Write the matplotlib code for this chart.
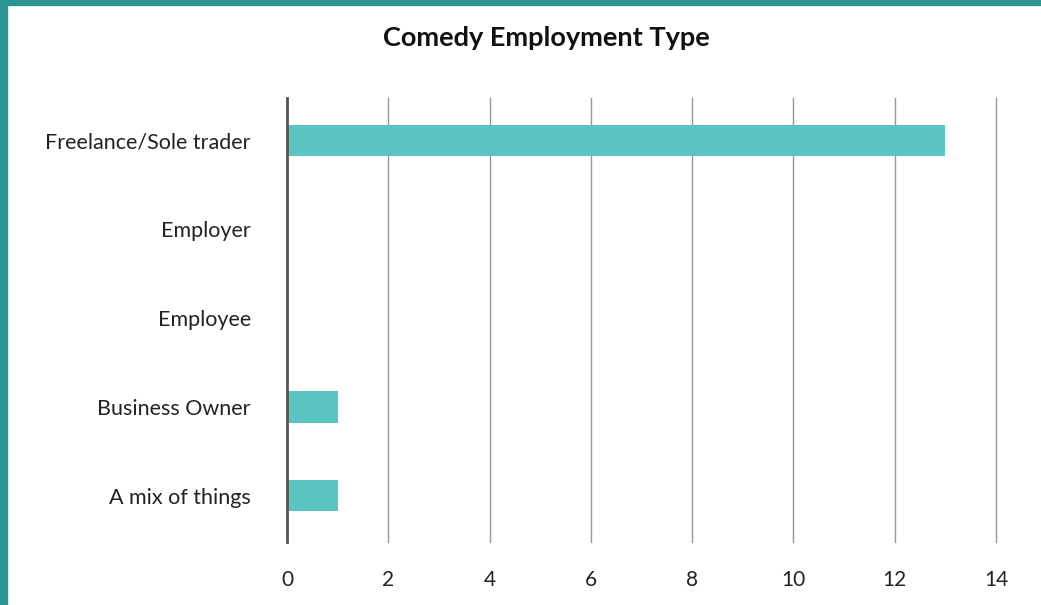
import matplotlib.pyplot as plt
from matplotlib.patches import Rectangle

categories = ["Freelance/Sole trader", "Employer", "Employee", "Business Owner", "A mix of things"]
counts = [13, 0, 0, 1, 1]
xticks = [0, 2, 4, 6, 8, 10, 12, 14]

W, H = 1041, 605
fig = plt.figure(figsize=(W / 100, H / 100), dpi=100)
ax = fig.add_axes([287 / W, 1 - 542 / H, (996 - 287) / W, (542 - 98) / H])

ypos = range(len(categories))
ax.barh(ypos, counts, height=0.35, color="#5bc5c3", zorder=3)
ax.set_ylim(len(categories) - 0.5 + 0.02, -0.5 + 0.02)
ax.set_xlim(0, 14)
ax.set_xticks(xticks)
ax.set_yticks(list(ypos))
ax.set_yticklabels(categories, fontsize=15.5, color="#222222", family="Lato")
ax.set_xticklabels([str(t) for t in xticks], fontsize=15, color="#222222", family="Lato")
ax.tick_params(axis="y", length=0, pad=26)
ax.tick_params(axis="x", length=0, pad=20)

for s in ax.spines.values():
    s.set_visible(False)
# vertical gridlines, unclipped so the one at 14 shows fully
for t in xticks[1:]:
    ax.axvline(t, color="#8e9c9c", linewidth=1, zorder=1, clip_on=False)
ax.axvline(0, color="#555555", linewidth=2, zorder=4, clip_on=False)

ax.set_title("Comedy Employment Type", fontsize=19.5, fontweight="bold",
             family="Lato", color="#111111", pad=0, x=(546 - 287) / (996 - 287),
             y=1 + (98 - 38) / (542 - 98), va="center")

# teal frame along the top and left edges
fig.patches.append(Rectangle((0, 1 - 5 / H), 1, 5 / H, transform=fig.transFigure,
                             color="#2a9490", zorder=10))
fig.patches.append(Rectangle((0, 0), 7 / W, 1, transform=fig.transFigure,
                             color="#2a9490", zorder=10))

fig.savefig("out.png", dpi=100)
